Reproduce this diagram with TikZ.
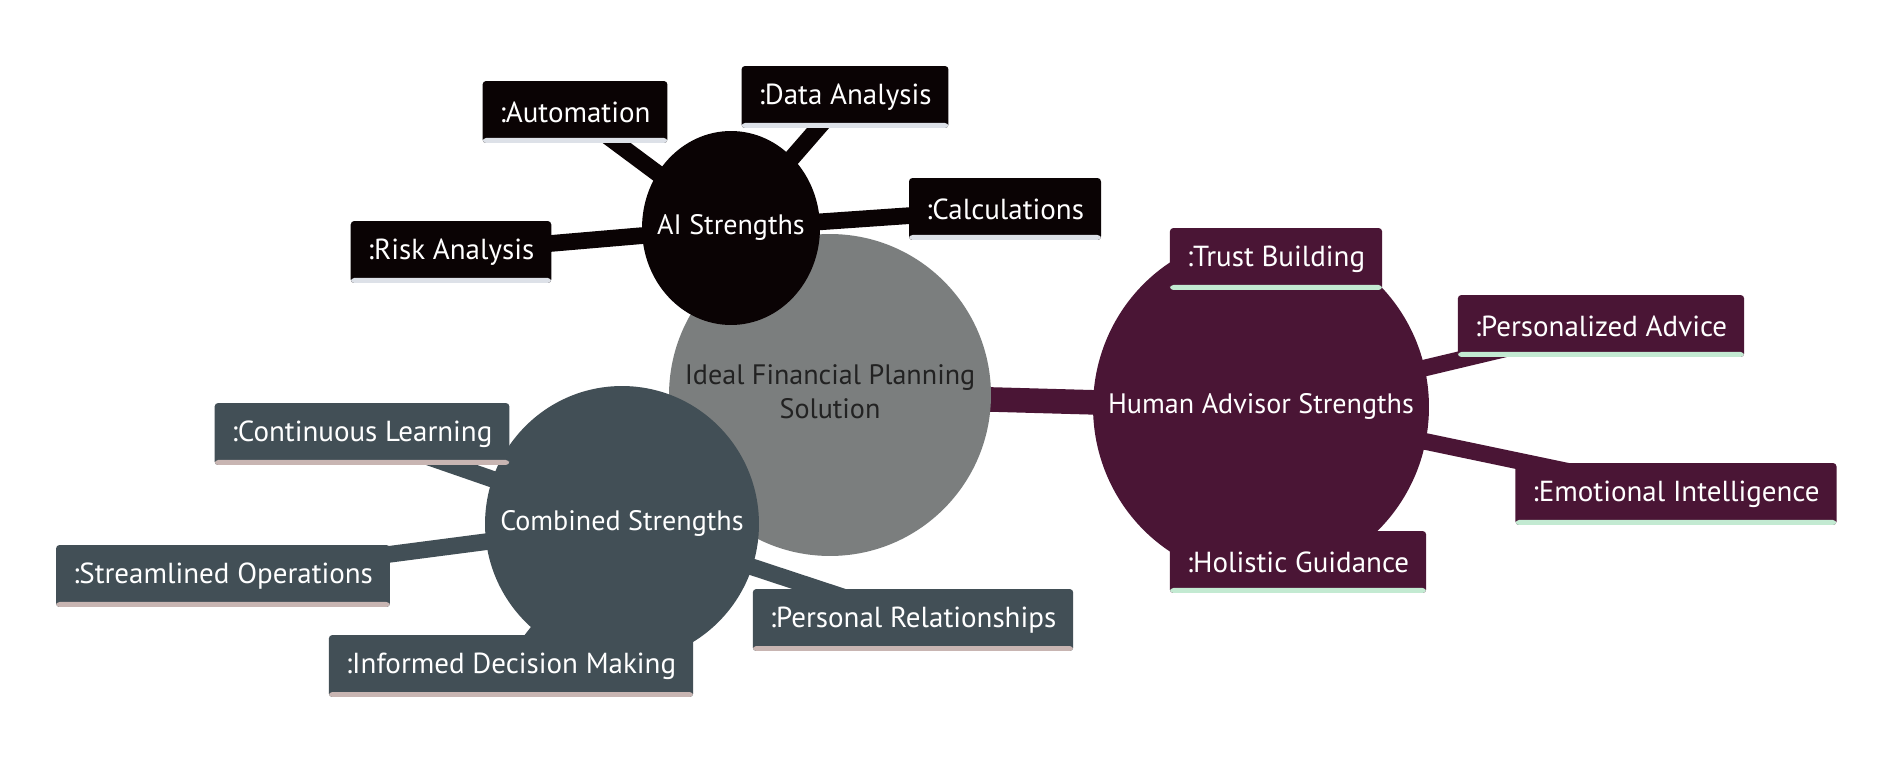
\documentclass[tikz,border=0pt]{standalone}
\usepackage{fontspec}
\setmainfont{PT Sans}
\usepackage{xcolor}
\usepackage{tikz}
\usetikzlibrary{shapes.geometric,backgrounds}

\definecolor{hubgray}{HTML}{7B7E7E}
\definecolor{hubtext}{HTML}{222222}
\definecolor{aiblack}{HTML}{0A0304}
\definecolor{aistrip}{HTML}{DDE1E8}
\definecolor{humanplum}{HTML}{4A1535}
\definecolor{humanstrip}{HTML}{C3EAD2}
\definecolor{combslate}{HTML}{424F56}
\definecolor{combstrip}{HTML}{C8B5B2}

% text that does not widen the ellipse
\newcommand{\flattext}[1]{\makebox[0pt]{\begin{tabular}{@{}c@{}}#1\end{tabular}}}

\begin{document}
\begin{tikzpicture}[x=0.02cm, y=-0.02cm,
    font=\fontsize{16.5}{19.5}\selectfont,
    hub/.style={ellipse, fill=hubgray, text=hubtext, minimum width=6.44cm, minimum height=6.44cm, inner sep=0pt, font=\fontsize{16}{19}\selectfont},
    branch/.style={ellipse, fill=#1, text=white, inner sep=0pt, font=\fontsize{16}{19}\selectfont},
    leaf/.style 2 args={rectangle, rounded corners=2pt, fill=#1, text=white, minimum height=1.24cm, inner xsep=0.34cm,
        path picture={\fill[#2] (path picture bounding box.south west) rectangle ([yshift=0.1cm]path picture bounding box.south east);}},
    link/.style={draw=#1, line width=9.5pt},
    rootlink/.style={draw=#1, line width=14pt},
]
\useasboundingbox (0,0) rectangle (1898,764);

% Root
\node[hub] (root) at (830,395) {\flattext{Ideal Financial Planning\\Solution}};

% Branch circles
\node[branch=aiblack, minimum width=3.56cm, minimum height=3.88cm] (ai) at (731,228) {\flattext{AI Strengths}};
\node[branch=combslate, minimum width=5.48cm, minimum height=5.52cm] (comb) at (622,524) {\flattext{Combined Strengths}};
\node[branch=humanplum, minimum width=6.72cm, minimum height=6.88cm] (human) at (1261,407) {\flattext{Human Advisor Strengths}};

% AI Strengths leaves
\node[leaf={aiblack}{aistrip}] (auto) at (575,112) {:Automation};
\node[leaf={aiblack}{aistrip}] (data) at (845,97) {:Data Analysis};
\node[leaf={aiblack}{aistrip}] (calc) at (1005,209) {:Calculations};
\node[leaf={aiblack}{aistrip}] (risk) at (451,252) {:Risk Analysis};

% Human Advisor leaves
\node[leaf={humanplum}{humanstrip}] (trust) at (1276,259) {:Trust Building};
\node[leaf={humanplum}{humanstrip}] (advice) at (1601,326) {:Personalized Advice};
\node[leaf={humanplum}{humanstrip}] (emotion) at (1676,494) {:Emotional Intelligence};
\node[leaf={humanplum}{humanstrip}] (holistic) at (1298,562) {:Holistic Guidance};

% Combined leaves
\node[leaf={combslate}{combstrip}] (learn) at (362,434) {:Continuous Learning};
\node[leaf={combslate}{combstrip}] (stream) at (223,576) {:Streamlined Operations};
\node[leaf={combslate}{combstrip}] (decide) at (511,666) {:Informed Decision Making};
\node[leaf={combslate}{combstrip}] (relation) at (913,620) {:Personal Relationships};

% Links behind everything
\begin{scope}[on background layer]
\fill[white] (0,0) rectangle (1898,764);
\draw[rootlink=aiblack] (root.center) -- (ai.center);
\draw[rootlink=combslate] (root.center) -- (comb.center);
\draw[rootlink=humanplum] (root.center) -- (human.center);

\draw[link=aiblack] (ai.center) -- (auto.center);
\draw[link=aiblack] (ai.center) -- (data.center);
\draw[link=aiblack] (ai.center) -- (calc.center);
\draw[link=aiblack] (ai.center) -- (risk.center);

\draw[link=humanplum] (human.center) -- (trust.center);
\draw[link=humanplum] (human.center) -- (advice.center);
\draw[link=humanplum] (human.center) -- (emotion.center);
\draw[link=humanplum] (human.center) -- (holistic.center);

\draw[link=combslate] (comb.center) -- (learn.center);
\draw[link=combslate] (comb.center) -- (stream.center);
\draw[link=combslate] (comb.center) -- (decide.center);
\draw[link=combslate] (comb.center) -- (relation.center);
\end{scope}

\end{tikzpicture}
\end{document}
